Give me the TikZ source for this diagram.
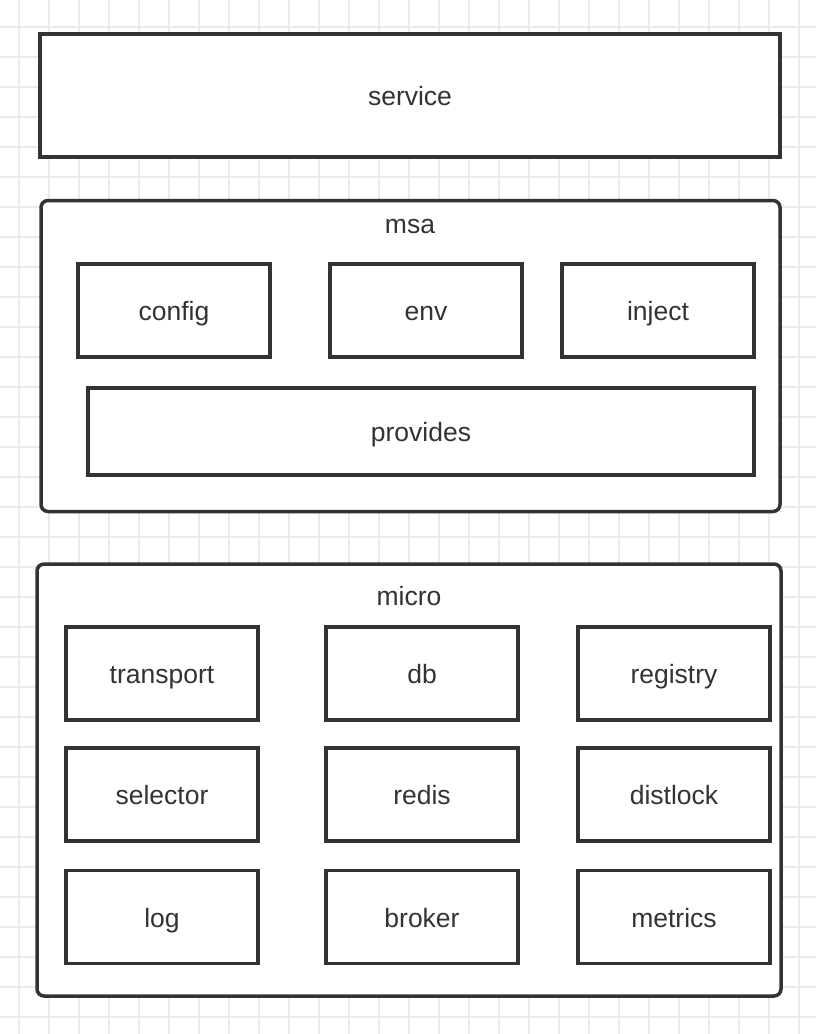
\documentclass[tikz,border=0pt]{standalone}
\usepackage{fontspec}
\setmainfont{Liberation Sans}
\definecolor{boxline}{HTML}{333333}
\definecolor{gridgray}{HTML}{EBEBEB}

\begin{document}
\begin{tikzpicture}[x=1pt, y=-1pt,
    every node/.style={font=\fontsize{26.5}{30}\selectfont, text=boxline,
      text height=23pt, text depth=2.5pt, inner sep=0pt},
    box/.style={draw=boxline, fill=white, line width=3.5pt, rectangle,
      minimum width=192pt, minimum height=93pt},
    group/.style={box, rounded corners=7pt}
  ]
  \useasboundingbox (0,0) rectangle (816,1034);

  % background grid
  \foreach \x in {19,49,...,799}
    \draw[gridgray, line width=1.6pt] (\x,0) -- (\x,1034);
  \foreach \y in {27,57,...,1017}
    \draw[gridgray, line width=1.6pt] (0,\y) -- (816,\y);

  % service layer
  \node[box, minimum width=740pt, minimum height=123pt] (service) at (410,95.5) {service};

  % msa layer
  \node[group, minimum width=739pt, minimum height=311pt] (msa) at (410.5,356) {};
  \node (msatitle) at (410,223.5) {msa};
  \node[box] (config) at (174,310.5) {config};
  \node[box] (env) at (426,310.5) {env};
  \node[box] (inject) at (658,310.5) {inject};
  \node[box, minimum width=666pt, minimum height=87pt] (provides) at (421,431.5) {provides};

  % micro layer
  \node[group, minimum width=744pt, minimum height=432pt] (micro) at (409,780) {};
  \node (microtitle) at (409,595.5) {micro};
  \foreach \name/\x/\y in {transport/162/673.5, db/422/673.5, registry/674/673.5,
      selector/162/794.5, redis/422/794.5, distlock/674/794.5,
      log/162/917, broker/422/917, metrics/674/917}
    \node[box] (\name) at (\x,\y) {\name};

\end{tikzpicture}
\end{document}
